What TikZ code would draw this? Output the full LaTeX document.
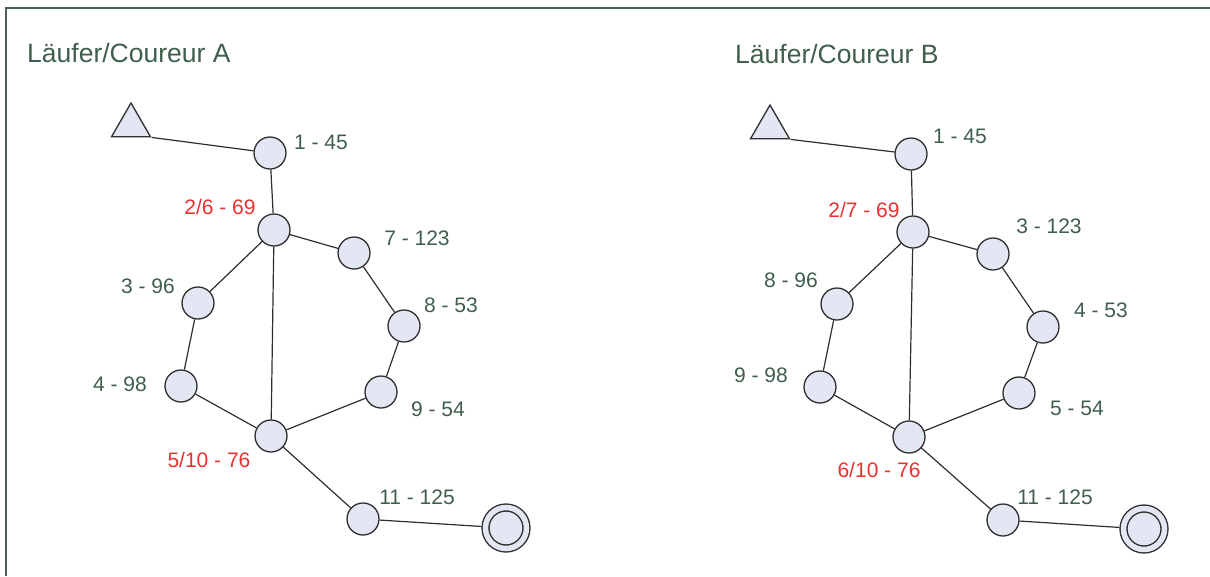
\documentclass[tikz,border=0pt]{standalone}
\usepackage{fontspec}
\setmainfont{Liberation Sans}
\usetikzlibrary{shapes.geometric}
\definecolor{postfill}{HTML}{E3E7F4}
\definecolor{postline}{HTML}{2E2E2E}
\definecolor{lblgreen}{HTML}{3F5E4C}
\definecolor{lblred}{HTML}{E8322F}
\definecolor{framegreen}{HTML}{4B6153}

\begin{document}
\begin{tikzpicture}[x=1pt, y=-1pt,
  post/.style={circle, draw=postline, fill=postfill, line width=1.3pt,
    minimum size=32pt, inner sep=0pt},
  start/.style={regular polygon, regular polygon sides=3, draw=postline,
    fill=postfill, line width=1.3pt, minimum size=45pt, inner sep=0pt},
  finish/.style={circle, draw=postline, fill=postfill, line width=1.4pt,
    double=postfill, double distance=5.5pt, minimum size=41pt,
    inner sep=0pt, outer sep=4.1pt},
  lbl/.style={text=lblgreen, font=\fontsize{21}{25}\selectfont, inner sep=0pt},
  dbl/.style={lbl, text=lblred},
  title/.style={lbl, font=\fontsize{26.5}{31}\selectfont, anchor=west},
  leg/.style={draw=postline, line width=1.2pt}]
\useasboundingbox (0,0) rectangle (1210,576);
\draw[framegreen, line width=2pt] (6,576) -- (6,8) -- (1210,8);

% runner A
\node[title] (titlea) at (27,53) {Läufer/Coureur A};
\node[start] (ta) at (131,125.5) {};
\node[post] (a1) at (270,153) {};
\node[post] (a2) at (274,230) {};
\node[post] (a7) at (354,253) {};
\node[post] (a3) at (198,303) {};
\node[post] (a8) at (404,326) {};
\node[post] (a4) at (181,386) {};
\node[post] (a9) at (381,392) {};
\node[post] (a5) at (271,436) {};
\node[post] (a11) at (363,519) {};
\node[finish] (fa) at (506,528) {};
\draw[leg] (ta.corner 3) -- (a1) -- (a2) -- (a7) -- (a8) -- (a9) -- (a5) -- (a11) -- (fa);
\draw[leg] (a2) -- (a3) -- (a4) -- (a5) -- (a2);
\node[lbl] (la1) at (321,142) {1 - 45};
\node[dbl] (la2) at (220,207) {2/6 - 69};
\node[lbl] (la7) at (417,238) {7 - 123};
\node[lbl] (la3) at (148,286) {3 - 96};
\node[lbl] (la8) at (451,305) {8 - 53};
\node[lbl] (la4) at (120,384) {4 - 98};
\node[lbl] (la9) at (438,409) {9 - 54};
\node[dbl] (la5) at (209,460) {5/10 - 76};
\node[lbl] (la11) at (417,497) {11 - 125};

% runner B
\node[title] (titleb) at (735,54) {Läufer/Coureur B};
\node[start] (tb) at (770,127.5) {};
\node[post] (b1) at (911,154) {};
\node[post] (b2) at (913,232) {};
\node[post] (b3) at (993,254) {};
\node[post] (b8) at (837,304) {};
\node[post] (b4) at (1043,327) {};
\node[post] (b9) at (820,387) {};
\node[post] (b5) at (1019,393) {};
\node[post] (b6) at (909,437) {};
\node[post] (b11) at (1003,520) {};
\node[finish] (fb) at (1144,529) {};
\draw[leg] (tb.corner 3) -- (b1) -- (b2) -- (b3) -- (b4) -- (b5) -- (b6) -- (b11) -- (fb);
\draw[leg] (b2) -- (b8) -- (b9) -- (b6) -- (b2);
\node[lbl] (lb1) at (960,136) {1 - 45};
\node[dbl] (lb2) at (864,210) {2/7 - 69};
\node[lbl] (lb3) at (1049,226) {3 - 123};
\node[lbl] (lb8) at (791,280) {8 - 96};
\node[lbl] (lb4) at (1101,310) {4 - 53};
\node[lbl] (lb9) at (761,375) {9 - 98};
\node[lbl] (lb5) at (1077,408) {5 - 54};
\node[dbl] (lb6) at (879,470) {6/10 - 76};
\node[lbl] (lb11) at (1055,497) {11 - 125};
\end{tikzpicture}
\end{document}
